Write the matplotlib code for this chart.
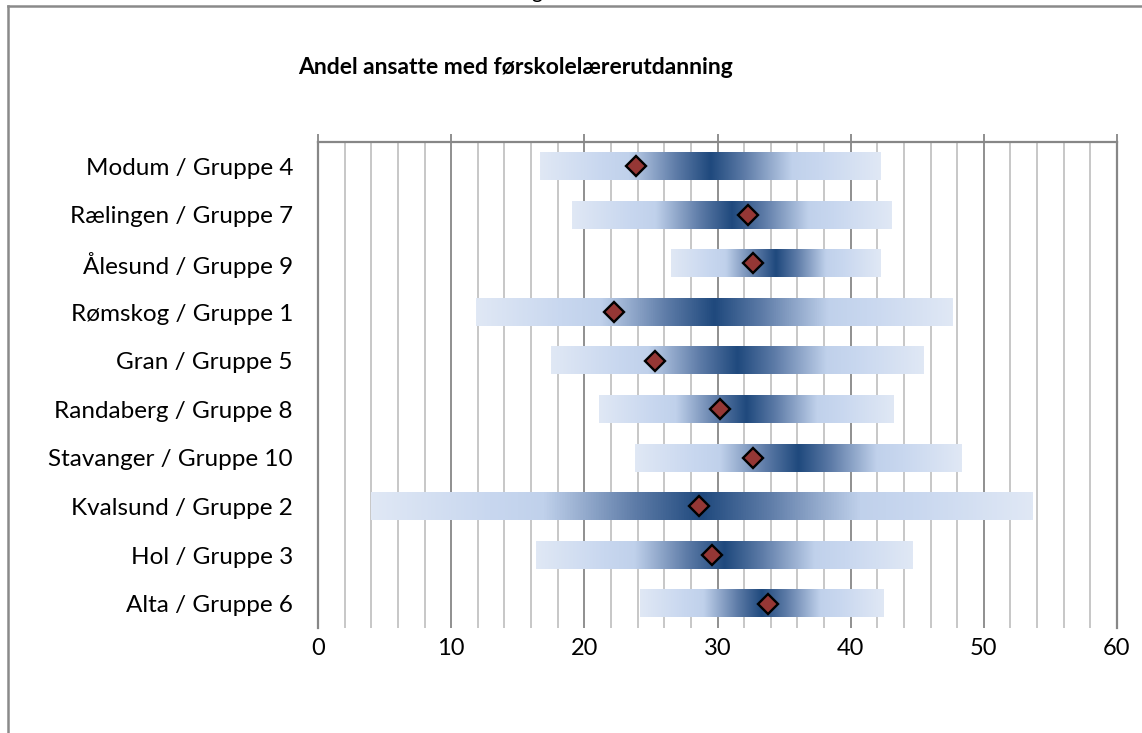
import matplotlib
matplotlib.use("Agg")
import matplotlib.pyplot as plt
import numpy as np
from matplotlib.colors import LinearSegmentedColormap
from matplotlib.ticker import MultipleLocator

plt.rcParams['font.family'] = ['Lato', 'DejaVu Sans']

categories = ["Modum / Gruppe 4", "Rælingen / Gruppe 7", "Ålesund / Gruppe 9",
              "Rømskog / Gruppe 1", "Gran / Gruppe 5", "Randaberg / Gruppe 8",
              "Stavanger / Gruppe 10", "Kvalsund / Gruppe 2", "Hol / Gruppe 3",
              "Alta / Gruppe 6"]
range_min = [16.7, 19.1, 26.5, 11.9, 17.5, 21.1, 23.8, 4.0, 16.4, 24.2]
range_max = [42.3, 43.1, 42.2, 47.7, 45.5, 43.2, 48.3, 53.7, 44.7, 42.5]
values = [23.9, 32.3, 32.7, 22.2, 25.3, 30.2, 32.7, 28.6, 29.6, 33.8]
xticks = [0, 10, 20, 30, 40, 50, 60]
title = "Andel ansatte med førskolelærerutdanning"

W, H = 1142, 733
fig = plt.figure(figsize=(W/100, H/100), dpi=100)
ax = fig.add_axes([318/W, 1-628/H, (1117-318)/W, (628-142)/H])

cmap = LinearSegmentedColormap.from_list("grad", [
    (0.0, '#e0e8f5'), (0.18, '#c8d7ef'), (0.26, '#c0d1eb'), (0.40, '#5d7ba7'),
    (0.5, '#1f497d'), (0.60, '#5d7ba7'), (0.74, '#c0d1eb'), (0.82, '#c8d7ef'),
    (1.0, '#e0e8f5')])
grad = np.linspace(0, 1, 512).reshape(1, -1)

n = len(categories)
ypos = np.arange(n)
h = 0.56
for y, lo, hi in zip(ypos, range_min, range_max):
    ax.imshow(grad, cmap=cmap, aspect='auto', extent=[lo, hi, y + h/2, y - h/2],
              interpolation='bilinear', zorder=2)

ax.plot(values, ypos, linestyle='none', marker='D', markersize=10.3,
        markerfacecolor='#953735', markeredgecolor='black', markeredgewidth=1.7, zorder=4)

ax.set_xlim(0, 60)
ax.set_ylim(n - 0.5, -0.5)
ax.set_xticks(xticks)
ax.xaxis.set_minor_locator(MultipleLocator(2))
ax.set_xticklabels([str(t) for t in xticks], fontsize=17)
ax.grid(which='major', axis='x', color='#878787', linewidth=1.3, zorder=0)
ax.grid(which='minor', axis='x', color='#c3c3c3', linewidth=1.3, zorder=0)
ax.set_axisbelow(True)
ax.tick_params(axis='x', which='major', top=True, bottom=False, direction='out',
               length=6, width=1.3, color='#878787', pad=1)
ax.tick_params(axis='x', which='minor', top=False, bottom=False, length=0)
ax.set_yticks(ypos)
ax.set_yticklabels(categories, fontsize=17.5)
ax.tick_params(axis='y', length=0, pad=18)
for s in ['left', 'top', 'right']:
    ax.spines[s].set_color('#878787')
    ax.spines[s].set_linewidth(1.6)
ax.spines['bottom'].set_visible(False)

fig.text(516/W, 1-68/H, title, fontsize=16.5, fontweight='bold', ha='center', va='center')
fig.text(537/W, 1+2/H, "g", fontsize=15, ha='center', va='baseline')

# outer border
fig.add_artist(plt.Line2D([8/W, 1], [1-6/H, 1-6/H], color='#8a8a8a', linewidth=1.8,
                          transform=fig.transFigure))
fig.add_artist(plt.Line2D([8/W, 8/W], [1-6/H, 0], color='#8a8a8a', linewidth=1.8,
                          transform=fig.transFigure))

fig.savefig("out.png", dpi=100)
